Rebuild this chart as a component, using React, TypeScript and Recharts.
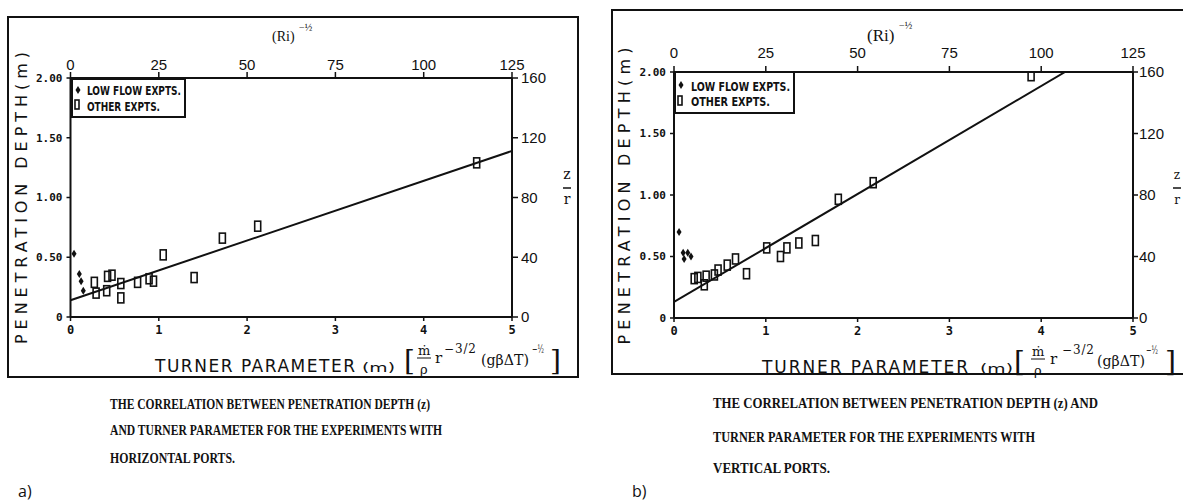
import { Scatter, ScatterChart, XAxis, YAxis } from "recharts";

// ticks
const depthTicks = [0, 0.5, 1, 1.5, 2];
const turnerTicks = [0, 1, 2, 3, 4, 5];
const riTicks = [0, 25, 50, 75, 100, 125];
const zrTicks = [0, 40, 80, 120, 160];

// a) horizontal ports
const lowFlowHorizontal = [
  { x: 0.04, y: 0.53 },
  { x: 0.1, y: 0.36 },
  { x: 0.12, y: 0.3 },
  { x: 0.145, y: 0.22 },
];
const otherHorizontal = [
  { x: 0.27, y: 0.29 },
  { x: 0.29, y: 0.2 },
  { x: 0.41, y: 0.22 },
  { x: 0.42, y: 0.34 },
  { x: 0.47, y: 0.35 },
  { x: 0.57, y: 0.28 },
  { x: 0.57, y: 0.16 },
  { x: 0.76, y: 0.29 },
  { x: 0.89, y: 0.32 },
  { x: 0.94, y: 0.3 },
  { x: 1.05, y: 0.52 },
  { x: 1.4, y: 0.33 },
  { x: 1.72, y: 0.66 },
  { x: 2.12, y: 0.76 },
  { x: 4.6, y: 1.29 },
];
const fitHorizontal = [
  { x: 0, y: 0.14 },
  { x: 5, y: 1.39 },
];

// b) vertical ports
const lowFlowVertical = [
  { x: 0.055, y: 0.7 },
  { x: 0.1, y: 0.53 },
  { x: 0.11, y: 0.48 },
  { x: 0.15, y: 0.53 },
  { x: 0.185, y: 0.5 },
];
const otherVertical = [
  { x: 0.22, y: 0.32 },
  { x: 0.26, y: 0.33 },
  { x: 0.33, y: 0.27 },
  { x: 0.35, y: 0.34 },
  { x: 0.44, y: 0.35 },
  { x: 0.48, y: 0.39 },
  { x: 0.58, y: 0.43 },
  { x: 0.67, y: 0.48 },
  { x: 0.79, y: 0.36 },
  { x: 1.01, y: 0.57 },
  { x: 1.16, y: 0.5 },
  { x: 1.23, y: 0.57 },
  { x: 1.36, y: 0.61 },
  { x: 1.54, y: 0.63 },
  { x: 1.79, y: 0.965 },
  { x: 2.17, y: 1.1 },
  { x: 3.89, y: 1.97 },
];
const fitVertical = [
  { x: 0, y: 0.13 },
  { x: 4.26, y: 2.0 },
];

// corners of the secondary (Ri)^-1/2 and z/r axes
const secondaryCorners = [
  { x: riTicks[0], y: zrTicks[0] },
  { x: riTicks[riTicks.length - 1], y: zrTicks[zrTicks.length - 1] },
];

const ink = "#111";
const mono = "DejaVu Sans Mono";

type Pt = { x: number; y: number };

function Diamond(props: any) {
  const { cx, cy } = props;
  return (
    <polygon
      points={`${cx},${cy - 4} ${cx + 2.5},${cy} ${cx},${cy + 4} ${cx - 2.5},${cy}`}
      fill={ink}
    />
  );
}

function OpenRect(props: any) {
  const { cx, cy } = props;
  return <rect x={cx - 3} y={cy - 5} width={6} height={10} fill="none" stroke={ink} strokeWidth={1.6} />;
}

type PanelProps = {
  left: number;
  width: number;
  margin: { top: number; right: number; bottom: number; left: number };
  lowFlow: Pt[];
  other: Pt[];
  fit: Pt[];
  topGap: number;
  rightTick: number;
  rightGap: number;
};

function Panel({ left, width, margin, lowFlow, other, fit, topGap, rightTick, rightGap }: PanelProps) {
  const axisLine = { stroke: ink, strokeWidth: 2 };
  return (
    <div style={{ position: "absolute", left, top: 0 }}>
      <ScatterChart width={width} height={400} margin={margin}>
        <XAxis
          dataKey="x"
          type="number"
          domain={[0, 5]}
          ticks={turnerTicks}
          allowDataOverflow
          height={30}
          axisLine={axisLine}
          tickLine={{ stroke: ink, strokeWidth: 1.5 }}
          tickSize={4}
          tickMargin={4}
          tick={{ fontSize: 12, fontWeight: 700, fontFamily: mono, fill: ink }}
        />
        <XAxis
          xAxisId="ri"
          dataKey="x"
          orientation="top"
          type="number"
          domain={[0, 125]}
          ticks={riTicks}
          allowDataOverflow
          height={30}
          axisLine={axisLine}
          tickLine={{ stroke: ink, strokeWidth: 1.5 }}
          tickSize={6}
          tickMargin={topGap}
          tick={{ fontSize: 15, fontFamily: "Liberation Sans", fill: ink }}
        />
        <YAxis
          dataKey="y"
          type="number"
          domain={[0, 2]}
          ticks={depthTicks}
          allowDataOverflow
          width={40}
          axisLine={axisLine}
          tickLine={{ stroke: ink, strokeWidth: 1.5 }}
          tickSize={4}
          tickMargin={4}
          tickFormatter={(v: number) => (v === 0 ? "0" : v.toFixed(2))}
          tick={{ fontSize: 11, fontWeight: 700, fontFamily: mono, fill: ink }}
        />
        <YAxis
          yAxisId="zr"
          dataKey="y"
          orientation="right"
          type="number"
          domain={[0, 160]}
          ticks={zrTicks}
          allowDataOverflow
          width={50}
          axisLine={axisLine}
          tickLine={{ stroke: ink, strokeWidth: 1.5 }}
          tickSize={rightTick}
          tickMargin={rightGap}
          tick={{ fontSize: 15, fontFamily: "Liberation Sans", fill: ink }}
        />
        <Scatter
          xAxisId="ri"
          yAxisId="zr"
          data={secondaryCorners}
          shape={() => <g />}
          legendType="none"
          isAnimationActive={false}
        />
        <Scatter
          data={fit}
          line={{ stroke: ink, strokeWidth: 2 }}
          shape={() => <g />}
          legendType="none"
          isAnimationActive={false}
        />
        <Scatter data={lowFlow} shape={Diamond} isAnimationActive={false} />
        <Scatter data={other} shape={OpenRect} isAnimationActive={false} />
      </ScatterChart>
    </div>
  );
}

function FracTitle({ x0, x1, y, mx, sx }: { x0: number; x1: number; y: number; mx: number; sx: number[] }) {
  // sx: [bracketL, frac, r, sup32, paren, supHalf, bracketR]
  const serif = "DejaVu Serif";
  return (
    <g fill={ink}>
      <text x={x0} y={y} fontSize={17} fontFamily="DejaVu Sans" textLength={x1 - x0} lengthAdjust="spacing">
        TURNER PARAMETER
      </text>
      <text x={mx} y={y} fontSize={13} fontFamily="DejaVu Sans" textLength={33} lengthAdjust="spacingAndGlyphs">
        (m)
      </text>
      <text x={sx[0]} y={y - 2} fontSize={28} fontFamily={serif} fontWeight={300}>
        [
      </text>
      <text x={sx[1]} y={y - 17} fontSize={13} fontFamily={serif}>
        ṁ
      </text>
      <line x1={sx[1] - 1} x2={sx[1] + 13} y1={y - 14} y2={y - 14} stroke={ink} strokeWidth={1} />
      <text x={sx[1] + 2} y={y + 2} fontSize={13} fontFamily={serif}>
        ρ
      </text>
      <text x={sx[2]} y={y - 9} fontSize={15} fontFamily={serif}>
        r
      </text>
      <text x={sx[3]} y={y - 19} fontSize={12} fontFamily={serif} textLength={32} lengthAdjust="spacing">
        −3/2
      </text>
      <text x={sx[4]} y={y - 7} fontSize={14} fontFamily={serif} textLength={48} lengthAdjust="spacingAndGlyphs">
        (gβΔT)
      </text>
      <text x={sx[5]} y={y - 19} fontSize={11} fontFamily={serif} textLength={12} lengthAdjust="spacingAndGlyphs">
        −½
      </text>
      <text x={sx[6]} y={y - 2} fontSize={28} fontFamily={serif} fontWeight={300}>
        ]
      </text>
    </g>
  );
}

function Overlay() {
  const cap = "Liberation Serif";
  const legendFont = "DejaVu Sans Condensed, DejaVu Sans";
  return (
    <svg
      width={1183}
      height={502}
      style={{ position: "absolute", left: 0, top: 0, pointerEvents: "none" }}
    >
      {/* frames */}
      <rect x={8} y={17} width={570} height={360} fill="none" stroke={ink} strokeWidth={2} />
      <rect x={612} y={10} width={600} height={364} fill="none" stroke={ink} strokeWidth={2} />

      {/* y titles */}
      <text
        transform="translate(27,198) rotate(-90)"
        textAnchor="middle"
        fontSize={16}
        fontFamily="DejaVu Sans"
        fill={ink}
        textLength={292}
        lengthAdjust="spacing"
      >
        PENETRATION DEPTH(m)
      </text>
      <text
        transform="translate(630,196) rotate(-90)"
        textAnchor="middle"
        fontSize={16}
        fontFamily="DejaVu Sans"
        fill={ink}
        textLength={297}
        lengthAdjust="spacing"
      >
        PENETRATION DEPTH(m)
      </text>

      {/* x titles */}
      <FracTitle x0={155} x1={355} y={372} mx={362} sx={[404, 418, 435, 444, 481, 532, 550]} />
      <FracTitle x0={762} x1={968} y={373} mx={980} sx={[1014, 1032, 1050, 1062, 1097, 1146, 1165]} />

      {/* (Ri)^-1/2 */}
      <text x={272} y={41} fontSize={14} fontFamily={cap} fill={ink}>
        (Ri)
      </text>
      <text x={299} y={31} fontSize={10} fontFamily={cap} fill={ink}>
        −½
      </text>
      <text x={867} y={41} fontSize={17} fontFamily={cap} fill={ink}>
        (Ri)
      </text>
      <text x={899} y={29} fontSize={10} fontFamily={cap} fill={ink}>
        −½
      </text>

      {/* z / r */}
      {[
        { cx: 567, fs: 14 },
        { cx: 1177, fs: 12 },
      ].map(({ cx, fs }) => (
        <g key={cx} fill={ink} fontFamily="DejaVu Serif" fontSize={fs} textAnchor="middle">
          <text x={cx} y={179}>z</text>
          <line x1={cx - 4} x2={cx + 4} y1={188} y2={188} stroke={ink} strokeWidth={1.5} />
          <text x={cx} y={204}>r</text>
        </g>
      ))}

      {/* legends */}
      <rect x={72} y={79} width={113} height={38} fill="#fff" stroke={ink} strokeWidth={2} />
      <Diamond cx={78} cy={90} />
      <text x={87} y={95} fontSize={12} fontWeight={700} fontFamily={legendFont} fill={ink} textLength={94} lengthAdjust="spacingAndGlyphs">
        LOW FLOW EXPTS.
      </text>
      <rect x={75} y={100} width={4} height={9} fill="none" stroke={ink} strokeWidth={1.6} />
      <text x={87} y={111} fontSize={12} fontWeight={700} fontFamily={legendFont} fill={ink} textLength={73} lengthAdjust="spacingAndGlyphs">
        OTHER EXPTS.
      </text>

      <rect x={675} y={72} width={119} height={41} fill="#fff" stroke={ink} strokeWidth={2} />
      <Diamond cx={681} cy={85} />
      <text x={691} y={91} fontSize={12} fontWeight={700} fontFamily={legendFont} fill={ink} textLength={99} lengthAdjust="spacingAndGlyphs">
        LOW FLOW EXPTS.
      </text>
      <rect x={678} y={96} width={4} height={9} fill="none" stroke={ink} strokeWidth={1.6} />
      <text x={691} y={106} fontSize={12} fontWeight={700} fontFamily={legendFont} fill={ink} textLength={79} lengthAdjust="spacingAndGlyphs">
        OTHER EXPTS.
      </text>

      {/* captions */}
      <g fontFamily={cap} fill={ink} fontSize={14} fontWeight={700}>
        <text x={110} y={409} textLength={320} lengthAdjust="spacingAndGlyphs">
          THE CORRELATION BETWEEN PENETRATION DEPTH (z)
        </text>
        <text x={110} y={435} textLength={332} lengthAdjust="spacingAndGlyphs">
          AND TURNER PARAMETER FOR THE EXPERIMENTS WITH
        </text>
        <text x={110} y={463} textLength={125} lengthAdjust="spacingAndGlyphs">
          HORIZONTAL PORTS.
        </text>
      </g>
      <g fontFamily={cap} fill={ink} fontSize={14.5} fontWeight={700}>
        <text x={713} y={408} textLength={385} lengthAdjust="spacingAndGlyphs">
          THE CORRELATION BETWEEN PENETRATION DEPTH (z) AND
        </text>
        <text x={713} y={442} textLength={322} lengthAdjust="spacingAndGlyphs">
          TURNER PARAMETER FOR THE EXPERIMENTS WITH
        </text>
        <text x={713} y={473} textLength={117} lengthAdjust="spacingAndGlyphs">
          VERTICAL PORTS.
        </text>
      </g>

      <text x={18} y={497} fontSize={16} fontFamily="Open Sans" fill={ink}>
        a)
      </text>
      <text x={632} y={497} fontSize={16} fontFamily="Open Sans" fill={ink}>
        b)
      </text>
    </svg>
  );
}

export default function App() {
  return (
    <div style={{ position: "absolute", left: 0, top: 0, width: 1183, height: 502, background: "#fff", overflow: "hidden" }}>
      <Panel
        left={0}
        width={600}
        margin={{ top: 48, right: 38, bottom: 53, left: 30.5 }}
        lowFlow={lowFlowHorizontal}
        other={otherHorizontal}
        fit={fitHorizontal}
        topGap={2}
        rightTick={6}
        rightGap={3}
      />
      <Panel
        left={600}
        width={583}
        margin={{ top: 42, right: 0, bottom: 52, left: 34 }}
        lowFlow={lowFlowVertical}
        other={otherVertical}
        fit={fitVertical}
        topGap={8}
        rightTick={5}
        rightGap={1}
      />
      <Overlay />
    </div>
  );
}
